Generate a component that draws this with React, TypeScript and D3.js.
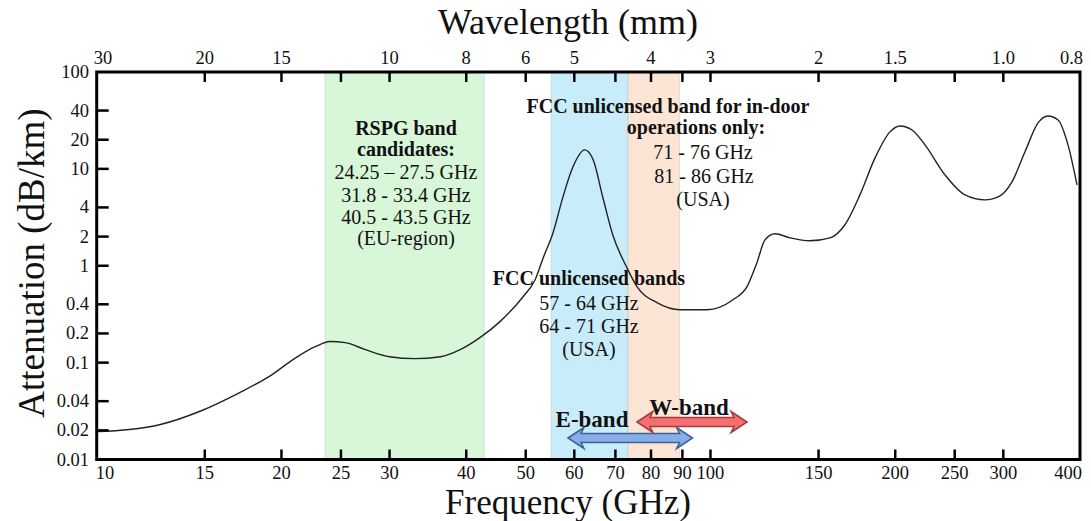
import React from 'react';
import * as d3 from 'd3';

// ---- data ----
const freqGHz = [10.0, 11.3, 12.7, 14.7, 17.1, 19.2, 21.0, 22.7, 24.0, 25.4, 27.4, 30.0, 33.0, 36.3, 39.1, 42.1, 45.4, 49.5, 51.8, 53.4, 55.4, 57.5, 59.7, 62.4, 64.4, 66.8, 69.3, 73.1, 75.9, 81.8, 89.2, 98.7, 108.8, 114.7, 119.0, 122.7, 127.4, 134.8, 145.2, 156.6, 165.6, 175.2, 185.4, 196.1, 203.6, 213.0, 223.6, 241.0, 259.8, 280.1, 296.3, 309.9, 325.4, 341.7, 354.8, 368.4, 382.4, 395.5];
const attenuation = [0.0194, 0.0204, 0.023, 0.0313, 0.0491, 0.0734, 0.11, 0.146, 0.165, 0.161, 0.136, 0.115, 0.11, 0.115, 0.136, 0.181, 0.265, 0.479, 0.718, 1.21, 2.19, 5.14, 10.5, 15.7, 12.4, 5.03, 2.09, 0.953, 0.608, 0.416, 0.352, 0.352, 0.446, 0.608, 1.07, 1.85, 2.14, 1.94, 1.81, 1.94, 2.65, 5.39, 13.0, 24.1, 27.7, 25.2, 17.7, 8.68, 5.39, 4.79, 5.27, 7.35, 15.0, 29.8, 35.2, 32.0, 17.7, 6.84];

const freqTicks = [10, 15, 20, 25, 30, 40, 50, 60, 70, 80, 90, 100, 150, 200, 250, 300, 400];
const freqTickLabels = ['10', '15', '20', '25', '30', '40', '50', '60', '70', '80', '90', '100', '150', '200', '250', '300', '400'];
const wlTickFreqs = [10, 15, 20, 30, 40, 50, 60, 80, 100, 150, 200, 300, 400];
const wlTickLabels = ['30', '20', '15', '10', '8', '6', '5', '4', '3', '2', '1.5', '1.0', '0.8'];
const attTicks = [100, 40, 20, 10, 4, 2, 1, 0.4, 0.2, 0.1, 0.04, 0.02, 0.01];
const attTickLabels = ['100', '40', '20', '10', '4', '2', '1', '0.4', '0.2', '0.1', '0.04', '0.02', '0.01'];

const bandNames = ['RSPG', 'FCC 57-71', 'FCC 71-86'];
const bandStart = [23.55, 55.0, 73.4];
const bandEnd = [42.8, 73.4, 89.0];
const bandColors = ['#d8f6d8', '#c8ecfa', '#fde5d6'];

const arrowNames = ['E-band', 'W-band'];
const arrowStart = [58.6, 75.9];
const arrowEnd = [93.5, 114.7];

const FONT = "'Liberation Serif', 'DejaVu Serif', serif";

function arrowPath(x1: number, x2: number, yc: number) {
  const L = 16, Hh = 10.5, h = 4.5;
  return `M${x1},${yc} L${x1 + L},${yc - Hh} L${x1 + L - 3},${yc - h} L${x2 - L + 3},${yc - h} L${x2 - L},${yc - Hh} L${x2},${yc} L${x2 - L},${yc + Hh} L${x2 - L + 3},${yc + h} L${x1 + L - 3},${yc + h} L${x1 + L},${yc + Hh} Z`;
}

export default function App() {
  const W = 1091, H = 521;
  const left = 96.7, right = 1080, top = 72, bottom = 459.5;
  const x = d3.scaleLog().domain([10, 400]).range([left, right]);
  const y = d3.scaleLog().domain([0.01, 100]).range([bottom, top]);
  const line = d3.line<number>()
    .x((_, i) => x(freqGHz[i]))
    .y((_, i) => y(attenuation[i]))
    .curve(d3.curveMonotoneX);
  const curvePath = line(freqGHz) || '';
  const tickLen = 10;

  const textStyle = { fontFamily: FONT, fill: '#111' } as const;

  return (
    <svg width={W} height={H} style={{ position: 'absolute', left: 0, top: 0, background: '#fff' }}>
      {/* bands */}
      {bandNames.map((n, i) => (
        <rect key={n} x={x(bandStart[i])} y={top} width={x(bandEnd[i]) - x(bandStart[i])} height={bottom - top}
          fill={bandColors[i]} stroke="#b9c4b9" strokeOpacity={0.45} strokeWidth={1} />
      ))}

      {/* curve */}
      <path d={curvePath} fill="none" stroke="#222" strokeWidth={1.4} />

      {/* ticks bottom & top */}
      {freqTicks.slice(1, -1).map((f) => (
        <g key={'t' + f}>
          <line x1={x(f)} x2={x(f)} y1={bottom} y2={bottom - tickLen} stroke="#000" strokeWidth={2.5} />
          <line x1={x(f)} x2={x(f)} y1={top} y2={top + tickLen} stroke="#000" strokeWidth={2.5} />
        </g>
      ))}
      {attTicks.slice(1, -1).map((v) => (
        <line key={'yt' + v} x1={left} x2={left + tickLen + 2} y1={y(v)} y2={y(v)} stroke="#000" strokeWidth={2.5} />
      ))}

      {/* frame */}
      <rect x={left} y={top} width={right - left} height={bottom - top} fill="none" stroke="#000" strokeWidth={3} />

      {/* bottom tick labels */}
      {freqTicks.map((f, i) => {
        const first = i === 0, last = i === freqTicks.length - 1;
        return (
          <text key={'bl' + f} x={first ? x(f) - 1 : last ? x(f) + 2 : x(f)} y={479}
            textAnchor={first ? 'start' : last ? 'end' : 'middle'} fontSize={18.5} style={textStyle}>{freqTickLabels[i]}</text>
        );
      })}
      {/* top tick labels */}
      {wlTickFreqs.map((f, i) => {
        const first = i === 0, last = i === wlTickFreqs.length - 1;
        return (
          <text key={'tl' + f} x={first ? x(f) - 3 : last ? x(f) + 3 : x(f)} y={64}
            textAnchor={first ? 'start' : last ? 'end' : 'middle'} fontSize={18.5} style={textStyle}>{wlTickLabels[i]}</text>
        );
      })}
      {/* left tick labels */}
      {attTicks.map((v, i) => (
        <text key={'ll' + v} x={89} y={y(v) + 6} textAnchor="end" fontSize={18.5} style={textStyle}>{attTickLabels[i]}</text>
      ))}

      {/* axis titles */}
      <text x={568} y={34} textAnchor="middle" fontSize={36} style={textStyle}>Wavelength (mm)</text>
      <text x={568} y={514} textAnchor="middle" fontSize={35} style={textStyle}>Frequency (GHz)</text>
      <text transform={`translate(44,263) rotate(-90)`} textAnchor="middle" fontSize={37} style={textStyle}>Attenuation (dB/km)</text>

      {/* RSPG annotation */}
      <g textAnchor="middle" style={textStyle} fontSize={20}>
        <text x={406} y={135} fontWeight="bold">RSPG band</text>
        <text x={406} y={156} fontWeight="bold">candidates:</text>
        <text x={406} y={179}>24.25 – 27.5 GHz</text>
        <text x={406} y={202}>31.8 - 33.4 GHz</text>
        <text x={406} y={224}>40.5 - 43.5 GHz</text>
        <text x={406} y={245}>(EU-region)</text>
      </g>

      {/* FCC in-door annotation */}
      <g textAnchor="middle" style={textStyle} fontSize={20}>
        <text x={668} y={113} fontWeight="bold">FCC unlicensed band for in-door</text>
        <text x={696} y={134} fontWeight="bold">operations only:</text>
        <text x={703} y={159}>71 - 76 GHz</text>
        <text x={704} y={183}>81 - 86 GHz</text>
        <text x={703} y={206}>(USA)</text>
      </g>

      {/* FCC unlicensed bands annotation */}
      <g textAnchor="middle" style={textStyle} fontSize={20}>
        <text x={589} y={285} fontWeight="bold">FCC unlicensed bands</text>
        <text x={589} y={310}>57 - 64 GHz</text>
        <text x={589} y={333}>64 - 71 GHz</text>
        <text x={589} y={356}>(USA)</text>
      </g>

      {/* band arrows */}
      <path d={arrowPath(x(arrowStart[0]), x(arrowEnd[0]), 438)} fill="#86aee8" stroke="#3f5f96" strokeWidth={1.5} />
      <path d={arrowPath(x(arrowStart[1]), x(arrowEnd[1]), 422)} fill="#f47070" stroke="#a83a3a" strokeWidth={1.5} />
      <text x={592} y={427} textAnchor="middle" fontSize={23} fontWeight="bold" style={textStyle}>{arrowNames[0]}</text>
      <text x={689} y={415} textAnchor="middle" fontSize={23} fontWeight="bold" style={textStyle}>{arrowNames[1]}</text>
    </svg>
  );
}
